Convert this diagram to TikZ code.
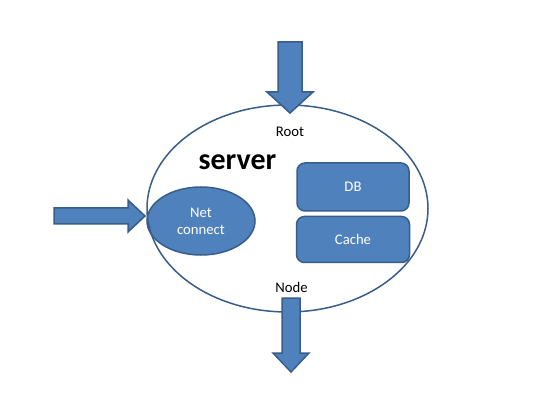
\documentclass[tikz,border=0pt]{standalone}
\usepackage{fontspec}
\setmainfont{Carlito}
\usetikzlibrary{positioning,calc,shapes.geometric}
\definecolor{boxfill}{HTML}{4F81BD}
\definecolor{boxline}{HTML}{385D8A}

\begin{document}
\begin{tikzpicture}[x=1pt,y=-1pt,
  every node/.style={font=\fontsize{14.7}{17}\selectfont},
  part/.style={draw=boxline,fill=boxfill,line width=1.5pt,text=white},
  blockarrow/.style={draw=boxline,fill=boxfill,line width=1.5pt,line join=miter}]
  \useasboundingbox[fill=white] (0,0) rectangle (542,404);
  % parts inside the server
  \node[part,ellipse,minimum width=108,minimum height=68,align=center] (net) at (201,221) {Net\\connect};
  \node[part,rounded corners=8pt,minimum width=112,minimum height=48] (db) at (353,187) {DB};
  \node[part,rounded corners=8pt,minimum width=113,minimum height=46,below=4pt of db] (cache) {Cache};
  % server outline and labels
  \node[draw=boxline,ellipse,line width=1.5pt,minimum width=281,minimum height=207] (server) at (287.5,208.5) {};
  \node[font=\bfseries\fontsize{30}{36}\selectfont] (title) at (237.5,162) {server};
  \node (root) at (290,132) {Root};
  \node (nodelbl) at (291.5,287.5) {Node};
  % block arrows
  \coordinate (rootsrc) at (290,42);
  \coordinate (nodeout) at (291,298);
  \coordinate (netsrc) at (54,216);
  \draw[blockarrow] ($(rootsrc)+(-12,0)$) -- ++(24,0) -- ++(0,50) -- ++(11,0)
    -- ($(rootsrc)+(0,71)$) -- ++(-23,-21) -- ++(11,0) -- cycle;
  \draw[blockarrow] ($(nodeout)+(-9,0)$) -- ++(18,0) -- ++(0,55) -- ++(9,0)
    -- ($(nodeout)+(0,74)$) -- ++(-18,-19) -- ++(9,0) -- cycle;
  \draw[blockarrow] ($(netsrc)+(0,-8)$) -- ++(74,0) -- ++(0,-8)
    -- ($(netsrc)+(91,0)$) -- ++(-17,16) -- ++(0,-8) -- ++(-74,0) -- cycle;
\end{tikzpicture}
\end{document}
